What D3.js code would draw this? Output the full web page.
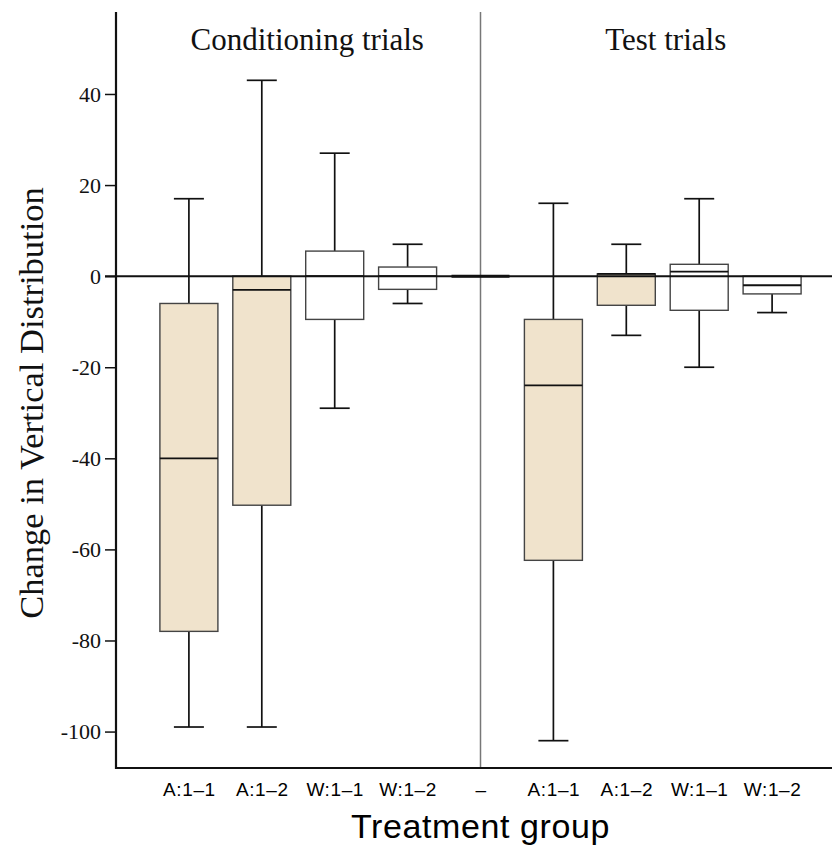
<!DOCTYPE html>
<html>
<head>
<meta charset="utf-8">
<script src="https://cdn.jsdelivr.net/npm/d3@7"></script>
<style>
  body { margin: 0; background: #fff; }
  svg { display: block; }
</style>
</head>
<body>
<div id="chart"></div>
<script>
// categories along the x axis (the middle "–" slot separates the two panels)
const groups = ['c0', 'c1', 'c2', 'c3', 'sep', 't0', 't1', 't2', 't3'];
const groupLabels = ['A:1\u20131', 'A:1\u20132', 'W:1\u20131', 'W:1\u20132', '\u2013', 'A:1\u20131', 'A:1\u20132', 'W:1\u20131', 'W:1\u20132'];
const panelTitles = ['Conditioning trials', 'Test trials'];

// box plot summaries
const whiskerLow  = [-99, -99, -29, -6, 0, -102, -13, -20, -8];
const q1          = [-78, -50.3, -9.5, -2.9, 0, -62.4, -6.4, -7.5, -3.9];
const median      = [-40, -3, 0, 0, 0, -24, 0.5, 1, -2];
const q3          = [-6, 0, 5.5, 2, 0, -9.5, 0.5, 2.6, 0];
const whiskerHigh = [17, 43, 27, 7, 0, 16, 7, 17, 0];
const filled      = [true, true, false, false, false, true, true, false, false];

const yTicks = [40, 20, 0, -20, -40, -60, -80, -100];

const width = 832, height = 845;
const svg = d3.select('#chart').append('svg')
    .attr('width', width)
    .attr('height', height);

const x = d3.scalePoint()
    .domain(groups)
    .range([116, 845])
    .padding(1);

const cx = g => x(g);

const y = d3.scaleLinear()
    .domain([-108, 58])
    .range([768, 12]);

const boxW = 58;
const capW = 30;

// divider between the two panels
svg.append('line')
    .attr('x1', cx('sep')).attr('x2', cx('sep'))
    .attr('y1', y(58)).attr('y2', y(-108))
    .attr('stroke', '#777')
    .attr('stroke-width', 1.5);

const data = groups.map((g, i) => ({
    g: g, lo: whiskerLow[i], q1: q1[i], med: median[i], q3: q3[i], hi: whiskerHigh[i], filled: filled[i]
}));

const boxes = svg.append('g').selectAll('g')
    .data(data.filter(d => d.g !== 'sep'))
    .enter().append('g');

// whiskers
boxes.append('line')
    .attr('x1', d => cx(d.g)).attr('x2', d => cx(d.g))
    .attr('y1', d => y(d.hi)).attr('y2', d => y(d.q3))
    .attr('stroke', '#111').attr('stroke-width', 1.7);
boxes.append('line')
    .attr('x1', d => cx(d.g)).attr('x2', d => cx(d.g))
    .attr('y1', d => y(d.q1)).attr('y2', d => y(d.lo))
    .attr('stroke', '#111').attr('stroke-width', 1.7);
boxes.filter(d => d.hi > d.q3).append('line')
    .attr('x1', d => cx(d.g) - capW / 2).attr('x2', d => cx(d.g) + capW / 2)
    .attr('y1', d => y(d.hi)).attr('y2', d => y(d.hi))
    .attr('stroke', '#111').attr('stroke-width', 1.7);
boxes.filter(d => d.lo < d.q1).append('line')
    .attr('x1', d => cx(d.g) - capW / 2).attr('x2', d => cx(d.g) + capW / 2)
    .attr('y1', d => y(d.lo)).attr('y2', d => y(d.lo))
    .attr('stroke', '#111').attr('stroke-width', 1.7);

boxes.append('rect')
    .attr('x', d => cx(d.g) - boxW / 2)
    .attr('width', boxW)
    .attr('y', d => y(d.q3))
    .attr('height', d => y(d.q1) - y(d.q3))
    .attr('fill', d => d.filled ? '#f0e3cc' : '#fff')
    .attr('stroke', '#444')
    .attr('stroke-width', 1.4);

// zero reference line
svg.append('line')
    .attr('x1', 105).attr('x2', width)
    .attr('y1', y(0)).attr('y2', y(0))
    .attr('stroke', '#111')
    .attr('stroke-width', 2);

// empty separator slot: a flat box sitting on zero
svg.append('line')
    .attr('x1', cx('sep') - boxW / 2).attr('x2', cx('sep') + boxW / 2)
    .attr('y1', y(0)).attr('y2', y(0))
    .attr('stroke', '#111')
    .attr('stroke-width', 3);

// medians
boxes.append('line')
    .attr('x1', d => cx(d.g) - boxW / 2).attr('x2', d => cx(d.g) + boxW / 2)
    .attr('y1', d => y(d.med)).attr('y2', d => y(d.med))
    .attr('stroke', '#111').attr('stroke-width', 1.8);

// axes
const yAxis = d3.axisLeft(y)
    .tickValues(yTicks)
    .tickSize(11)
    .tickPadding(4)
    .tickFormat(d => String(d));
const yAxisG = svg.append('g')
    .attr('transform', 'translate(116,0)')
    .call(yAxis);
yAxisG.select('.domain').remove();
yAxisG.selectAll('.tick line').attr('stroke', '#111').attr('stroke-width', 1.5);
yAxisG.selectAll('.tick text')
    .attr('font-family', '"Liberation Serif", "Times New Roman", serif')
    .attr('font-size', 22)
    .attr('fill', '#111');

svg.append('line')
    .attr('x1', 116).attr('x2', 116)
    .attr('y1', 12).attr('y2', 769)
    .attr('stroke', '#111').attr('stroke-width', 2.2);
svg.append('line')
    .attr('x1', 115).attr('x2', width)
    .attr('y1', 768).attr('y2', 768)
    .attr('stroke', '#111').attr('stroke-width', 2.2);

const xAxis = d3.axisBottom(x)
    .tickSize(0)
    .tickPadding(15)
    .tickFormat((d, i) => groupLabels[i]);
const xAxisG = svg.append('g')
    .attr('transform', 'translate(0,768)')
    .call(xAxis);
xAxisG.select('.domain').remove();
xAxisG.selectAll('.tick text')
    .attr('font-family', '"Liberation Sans", Arial, sans-serif')
    .attr('font-size', 19)
    .attr('letter-spacing', 0.6)
    .attr('fill', '#000');

// panel titles
const titleX = [(cx('c0') + cx('c3')) / 2 + 9, (cx('t0') + cx('t3')) / 2 + 3];
svg.selectAll('.panel-title')
    .data(panelTitles)
    .enter().append('text')
    .attr('class', 'panel-title')
    .attr('x', (d, i) => titleX[i])
    .attr('y', 50)
    .attr('text-anchor', 'middle')
    .attr('font-family', '"Liberation Serif", "Times New Roman", serif')
    .attr('font-size', 31)
    .attr('fill', '#111')
    .text(d => d);

// axis titles
svg.append('text')
    .attr('transform', 'translate(43,403) rotate(-90)')
    .attr('text-anchor', 'middle')
    .attr('font-family', '"Liberation Serif", "Times New Roman", serif')
    .attr('font-size', 34.5)
    .attr('fill', '#111')
    .text('Change in Vertical Distribution');

svg.append('text')
    .attr('x', cx('sep'))
    .attr('y', 838)
    .attr('text-anchor', 'middle')
    .attr('font-family', '"Liberation Sans", Arial, sans-serif')
    .attr('font-size', 34)
    .attr('letter-spacing', 0.6)
    .attr('fill', '#000')
    .text('Treatment group');
</script>
</body>
</html>
